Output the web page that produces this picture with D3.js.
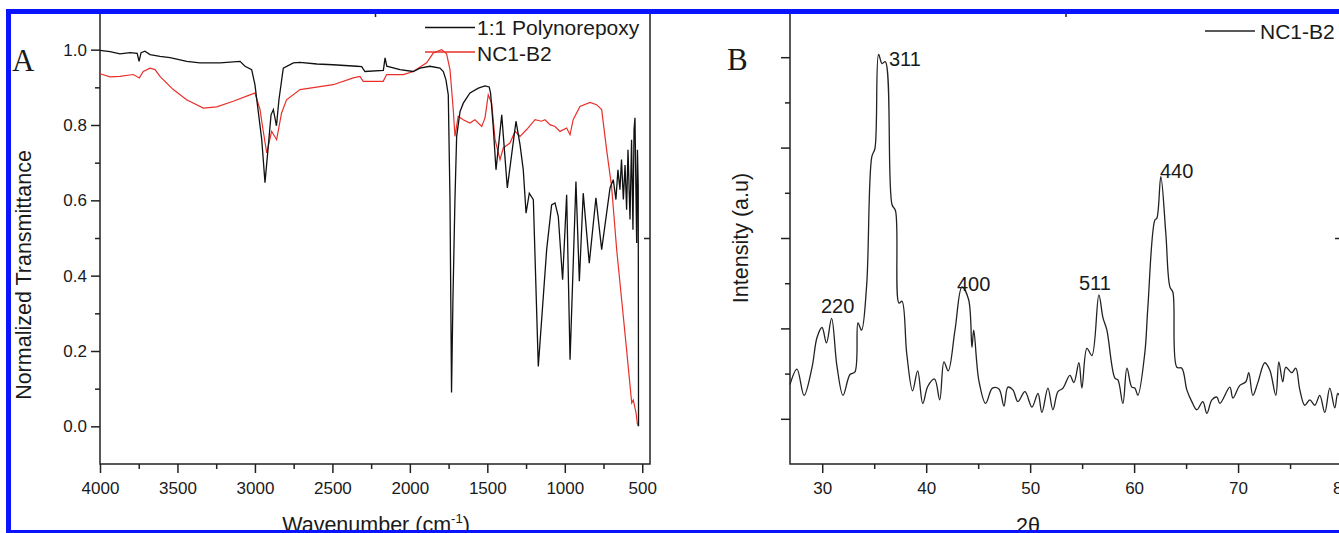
<!DOCTYPE html>
<html>
<head>
<meta charset="utf-8">
<script src="https://cdn.jsdelivr.net/npm/d3@7"></script>
<style>
  body { margin: 0; background: #fff; }
  text { fill: #1a1a1a; }
</style>
</head>
<body>
<svg id="fig" width="1339" height="533"></svg>
<script>
'use strict'

// FTIR, panel A : [wavenumber (cm-1), normalized transmittance]
const polyEpoxyFTIR = [
  [4000, 0.998], [3935, 0.995], [3871, 0.989], [3806, 0.992], [3760, 0.990], [3748, 0.969],
  [3735, 0.992], [3710, 0.996], [3677, 0.987], [3613, 0.982], [3548, 0.979], [3440, 0.969],
  [3355, 0.965], [3225, 0.965], [3096, 0.969], [3064, 0.956], [3021, 0.947], [3000, 0.907],
  [2980, 0.841], [2956, 0.761], [2935, 0.647], [2916, 0.734], [2896, 0.827], [2881, 0.841],
  [2861, 0.798], [2845, 0.867], [2817, 0.951], [2752, 0.965], [2709, 0.966], [2600, 0.962],
  [2496, 0.960], [2343, 0.956], [2311, 0.955], [2290, 0.942], [2171, 0.945], [2160, 0.978],
  [2149, 0.956], [2064, 0.947], [1978, 0.942], [1935, 0.951], [1870, 0.956], [1806, 0.951],
  [1784, 0.942], [1767, 0.920], [1752, 0.880], [1741, 0.602], [1731, 0.090], [1722, 0.336],
  [1709, 0.602], [1698, 0.770], [1676, 0.836], [1655, 0.858], [1612, 0.885], [1558, 0.898],
  [1515, 0.904], [1488, 0.901], [1479, 0.885], [1462, 0.796], [1444, 0.681], [1407, 0.827],
  [1371, 0.633], [1315, 0.810], [1289, 0.748], [1268, 0.681], [1250, 0.566], [1229, 0.619],
  [1203, 0.602], [1171, 0.159], [1117, 0.469], [1085, 0.588], [1063, 0.593], [1042, 0.557],
  [1014, 0.389], [988, 0.615], [966, 0.177], [928, 0.650], [906, 0.385], [881, 0.619],
  [842, 0.433], [799, 0.607], [762, 0.469], [708, 0.633], [687, 0.655], [670, 0.602],
  [657, 0.681], [644, 0.628], [634, 0.708], [622, 0.602], [611, 0.694], [601, 0.575],
  [592, 0.734], [579, 0.549], [569, 0.761], [560, 0.522], [553, 0.788], [547, 0.819],
  [540, 0.602], [536, 0.487], [531, 0.734], [526, 0.637], [524, 0.0]
]

const nc1b2FTIR = [
  [4000, 0.936], [3935, 0.928], [3871, 0.929], [3785, 0.934], [3746, 0.925], [3721, 0.942],
  [3677, 0.951], [3645, 0.947], [3613, 0.929], [3527, 0.894], [3441, 0.867], [3333, 0.845],
  [3247, 0.848], [3140, 0.863], [3032, 0.880], [3000, 0.885], [2967, 0.841], [2948, 0.788],
  [2924, 0.726], [2892, 0.783], [2860, 0.761], [2828, 0.832], [2796, 0.867], [2709, 0.894],
  [2495, 0.907], [2365, 0.925], [2322, 0.929], [2301, 0.916], [2172, 0.916], [2150, 0.934],
  [2042, 0.934], [1978, 0.942], [1892, 0.965], [1849, 0.991], [1795, 1.000], [1763, 0.989],
  [1741, 0.947], [1720, 0.841], [1709, 0.770], [1688, 0.823], [1656, 0.814], [1612, 0.805],
  [1580, 0.814], [1536, 0.796], [1515, 0.819], [1494, 0.880], [1472, 0.858], [1450, 0.761],
  [1418, 0.708], [1397, 0.739], [1354, 0.752], [1321, 0.783], [1289, 0.770], [1246, 0.788],
  [1192, 0.814], [1150, 0.810], [1128, 0.814], [1096, 0.801], [1063, 0.796], [1031, 0.783],
  [988, 0.792], [966, 0.774], [946, 0.814], [902, 0.849], [837, 0.860], [795, 0.854],
  [762, 0.841], [730, 0.734], [698, 0.637], [665, 0.469], [633, 0.336], [601, 0.203],
  [568, 0.062], [558, 0.070], [540, 0.036], [532, 0.008], [526, 0.001]
]

// XRD, panel B : [2theta (deg), intensity (a.u.)]
const nc1b2XRD = [
  [26.9, 88], [27.57, 105], [28.25, 76], [29.02, 107], [29.5, 140], [29.98, 151], [30.41, 134],
  [30.9, 161], [31.42, 108], [32.0, 76], [32.67, 99], [33.15, 102], [33.44, 156], [33.78, 148],
  [34.27, 197], [34.77, 340], [35.07, 349], [35.42, 453], [35.75, 443], [36.07, 445],
  [36.71, 287], [37.05, 280], [37.38, 178], [37.67, 180], [38.13, 122], [38.69, 81],
  [39.18, 103], [39.67, 67], [40.16, 86], [40.81, 94], [41.3, 71], [41.71, 113], [42.12, 103],
  [42.77, 148], [43.44, 196], [44.08, 182], [44.4, 129], [44.57, 148], [45.07, 92], [45.72, 67],
  [46.37, 84], [47.0, 83], [47.48, 64], [47.86, 85], [48.34, 82], [48.82, 69], [49.5, 80],
  [50.17, 63], [50.75, 78], [51.13, 57], [51.71, 84], [52.19, 60], [52.67, 80], [53.16, 84],
  [53.82, 98], [54.21, 90], [54.69, 112], [54.98, 84], [55.46, 128], [55.94, 120], [56.61, 187],
  [57.0, 162], [57.38, 148], [58.15, 95], [58.44, 93], [58.92, 67], [59.31, 106], [59.78, 85],
  [60.07, 84], [60.36, 76], [61.03, 123], [61.32, 173], [62.0, 270], [62.19, 272], [62.57, 318],
  [63.05, 255], [63.44, 196], [63.73, 190], [64.11, 107], [64.59, 106], [65.07, 82], [65.55, 69],
  [66.03, 60], [66.61, 69], [67.0, 56], [67.48, 71], [67.96, 74], [68.25, 67], [69.21, 85],
  [69.5, 73], [70.17, 87], [70.75, 91], [71.03, 101], [71.42, 76], [71.9, 90], [72.57, 112],
  [73.05, 104], [73.63, 76], [73.92, 113], [74.3, 91], [74.59, 107], [75.17, 101], [75.55, 106],
  [75.94, 82], [76.42, 65], [76.9, 71], [77.38, 65], [77.86, 76], [78.34, 57], [78.82, 84],
  [79.3, 62], [79.59, 78], [79.9, 71]
]

// miller indices and where their labels sit [2theta, intensity]
const peakNames = ['220', '311', '400', '511', '440']
const peakLabelPos = [[29.88, 167], [36.42, 440], [42.96, 191], [54.7, 192], [62.49, 316]]

// tick values
const ftirXTicks = [4000, 3500, 3000, 2500, 2000, 1500, 1000, 500]
const ftirXMinor = [3750, 3250, 2750, 2250, 1750, 1250, 750]
const ftirYTicks = [0, 0.2, 0.4, 0.6, 0.8, 1.0]
const ftirYMinor = [0.1, 0.3, 0.5, 0.7, 0.9]
const xrdXTicks = [30, 40, 50, 60, 70, 80]
const xrdXMinor = [35, 45, 55, 65, 75]
const xrdYTicks = [50, 150, 250, 350, 450]
const xrdYMinor = [100, 200, 300, 400]

const sans = '"Liberation Sans", Arial, sans-serif'
const serif = '"Liberation Serif", "Times New Roman", serif'
const axisColor = '#222'
const svg = d3.select('#fig').style('font-family', sans)

/**
 * Draws one axis (major or minor ticks) and styles it
 */
function addAxis (g, axis, transform) {
  const a = g.append('g')
    .attr('transform', transform)
    .call(axis)
  a.select('.domain').remove()
  a.selectAll('.tick line').attr('stroke', axisColor).attr('stroke-width', 1.5)
  a.selectAll('.tick text')
    .style('font-family', sans)
    .style('font-size', '17px')
    .attr('fill', '#1a1a1a')
  return a
}

// ---------------- panel A ----------------
const ftirX = d3.scaleLinear().domain([4000, 450]).range([100, 650])
const ftirY = d3.scaleLinear().domain([-0.1, 1.1]).range([464, 12])
const gA = svg.append('g')

addAxis(gA, d3.axisBottom(ftirX).tickValues(ftirXTicks).tickFormat(d3.format('d')).tickSize(9).tickPadding(9).tickSizeOuter(0), 'translate(0,464)')
addAxis(gA, d3.axisBottom(ftirX).tickValues(ftirXMinor).tickFormat('').tickSize(5).tickSizeOuter(0), 'translate(0,464)')
addAxis(gA, d3.axisLeft(ftirY).tickValues(ftirYTicks).tickFormat(d3.format('.1f')).tickSize(9).tickPadding(4).tickSizeOuter(0), 'translate(100,0)')
addAxis(gA, d3.axisLeft(ftirY).tickValues(ftirYMinor).tickFormat('').tickSize(5).tickSizeOuter(0), 'translate(100,0)')
addAxis(gA, d3.axisRight(ftirY).tickValues([0.5]).tickFormat('').tickSize(-6).tickSizeOuter(0), 'translate(650,0)')
addAxis(gA, d3.axisTop(ftirX).tickValues([2225]).tickFormat('').tickSize(-5).tickSizeOuter(0), 'translate(0,12)')

gA.append('rect')
  .attr('x', 100).attr('y', 12).attr('width', 550).attr('height', 452)
  .attr('fill', 'none').attr('stroke', axisColor).attr('stroke-width', 1.5)

const ftirLine = d3.line().x(d => ftirX(d[0])).y(d => ftirY(d[1]))

gA.append('path').datum(nc1b2FTIR)
  .attr('d', ftirLine).attr('fill', 'none').attr('stroke', '#e8302a').attr('stroke-width', 1.2)
gA.append('path').datum(polyEpoxyFTIR)
  .attr('d', ftirLine).attr('fill', 'none').attr('stroke', '#111').attr('stroke-width', 1.3)

// legend
const legendA = [['1:1 Polynorepoxy', '#111', 27.5, 35], ['NC1-B2', '#e8302a', 52, 61]]
legendA.forEach(function (l) {
  gA.append('line').attr('x1', 425).attr('x2', 475).attr('y1', l[2]).attr('y2', l[2])
    .attr('stroke', l[1]).attr('stroke-width', 1.3)
  gA.append('text').attr('x', 477).attr('y', l[3]).style('font-size', '21px').text(l[0])
})

gA.append('text')
  .attr('transform', 'translate(24,275) rotate(-90)')
  .attr('text-anchor', 'middle').attr('dominant-baseline', 'central')
  .style('font-size', '21.5px')
  .text('Normalized Transmittance')

const xTitleA = gA.append('text')
  .attr('x', 376).attr('y', 532).attr('text-anchor', 'middle').style('font-size', '21.5px')
xTitleA.append('tspan').text('Wavenumber (cm')
xTitleA.append('tspan').style('font-size', '13px').attr('dy', -9).text('-1')
xTitleA.append('tspan').attr('dy', 9).text(')')

gA.append('text').attr('x', 12).attr('y', 71)
  .style('font-family', serif)
  .style('font-size', '31px').text('A')

// ---------------- panel B ----------------
const xrdX = d3.scaleLinear().domain([26.9, 79.9]).range([790, 1341])
const xrdY = d3.scaleLinear().domain([0, 500]).range([464, 12])
const gB = svg.append('g')

addAxis(gB, d3.axisBottom(xrdX).tickValues(xrdXTicks).tickSize(9).tickPadding(9).tickSizeOuter(0), 'translate(0,464)')
addAxis(gB, d3.axisBottom(xrdX).tickValues(xrdXMinor).tickFormat('').tickSize(5).tickSizeOuter(0), 'translate(0,464)')
addAxis(gB, d3.axisLeft(xrdY).tickValues(xrdYTicks).tickFormat('').tickSize(9).tickSizeOuter(0), 'translate(790,0)')
addAxis(gB, d3.axisLeft(xrdY).tickValues(xrdYMinor).tickFormat('').tickSize(5).tickSizeOuter(0), 'translate(790,0)')
addAxis(gB, d3.axisRight(xrdY).tickValues([250]).tickFormat('').tickSize(-6).tickSizeOuter(0), 'translate(1341,0)')
addAxis(gB, d3.axisTop(xrdX).tickValues([53.4]).tickFormat('').tickSize(-5).tickSizeOuter(0), 'translate(0,12)')

gB.append('rect')
  .attr('x', 790).attr('y', 12).attr('width', 551).attr('height', 452)
  .attr('fill', 'none').attr('stroke', axisColor).attr('stroke-width', 1.5)

gB.append('path').datum(nc1b2XRD)
  .attr('d', d3.line().curve(d3.curveCatmullRom.alpha(0.5)).x(d => xrdX(d[0])).y(d => xrdY(d[1])))
  .attr('fill', 'none').attr('stroke', '#222').attr('stroke-width', 1.3)

gB.selectAll('.peak')
  .data(peakNames)
  .enter()
  .append('text')
  .attr('class', 'peak')
  .attr('x', (d, i) => xrdX(peakLabelPos[i][0]))
  .attr('y', (d, i) => xrdY(peakLabelPos[i][1]))
  .style('font-size', '20px')
  .text(d => d)

gB.append('line').attr('x1', 1205).attr('x2', 1255).attr('y1', 31).attr('y2', 31)
  .attr('stroke', '#222').attr('stroke-width', 1.3)
gB.append('text').attr('x', 1260).attr('y', 38.5).style('font-size', '21px').text('NC1-B2')

gB.append('text')
  .attr('transform', 'translate(741,238) rotate(-90)')
  .attr('text-anchor', 'middle').attr('dominant-baseline', 'central')
  .style('font-size', '21.5px')
  .text('Intensity (a.u)')

gB.append('text').attr('x', 1028).attr('y', 533).attr('text-anchor', 'middle')
  .style('font-size', '21.5px').text('2θ')

gB.append('text').attr('x', 727).attr('y', 70)
  .style('font-family', serif)
  .style('font-size', '31px').text('B')

// blue frame round the figure
svg.append('rect')
  .attr('x', 8.5).attr('y', 11.5).attr('width', 1345).attr('height', 521)
  .attr('fill', 'none').attr('stroke', '#0a14ff').attr('stroke-width', 5)
</script>
</body>
</html>
